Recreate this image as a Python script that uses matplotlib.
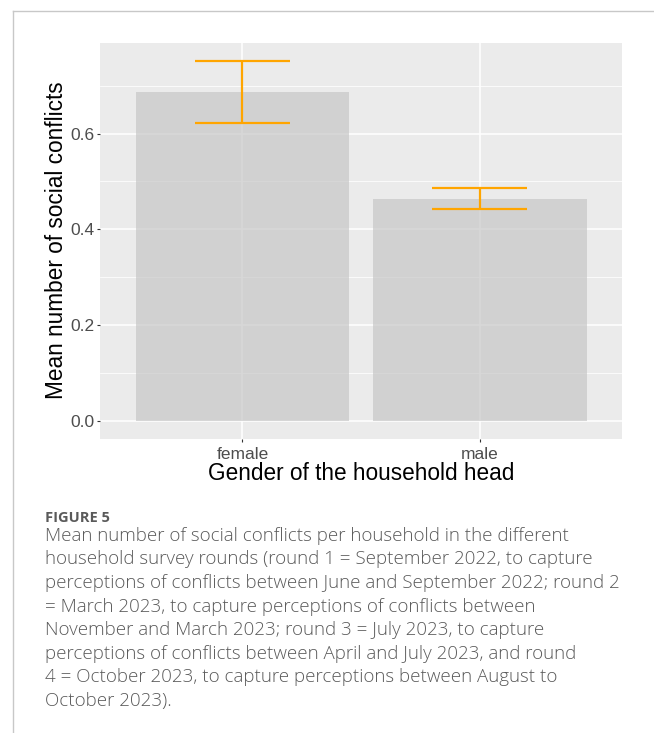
import numpy as np
import matplotlib
matplotlib.use("Agg")
import matplotlib.pyplot as plt
from matplotlib.lines import Line2D

# data
genders = ["female", "male"]
means = [0.687, 0.464]
lower = [0.623, 0.442]
upper = [0.752, 0.487]
yticks = [0.0, 0.2, 0.4, 0.6]
ytick_labels = ["0.0", "0.2", "0.4", "0.6"]

caption_title = "FIGURE 5"
caption_lines = [
    "Mean number of social conflicts per household in the different",
    "household survey rounds (round 1 = September 2022, to capture",
    "perceptions of conflicts between June and September 2022; round 2",
    "= March 2023, to capture perceptions of conflicts between",
    "November and March 2023; round 3 = July 2023, to capture",
    "perceptions of conflicts between April and July 2023, and round",
    "4 = October 2023, to capture perceptions between August to",
    "October 2023).",
]

W, H = 654, 733
fig = plt.figure(figsize=(W / 100, H / 100), dpi=100)
fig.patch.set_facecolor("white")

# panel position in pixels (left, top, right, bottom)
pl, pt, pr, pb = 100, 42.7, 622.5, 439
ax = fig.add_axes([pl / W, 1 - pb / H, (pr - pl) / W, (pb - pt) / H])
ax.set_facecolor("#EBEBEB")
for s in ax.spines.values():
    s.set_visible(False)

x = np.arange(1, len(genders) + 1)
ax.bar(x, means, width=0.9, color="#c4c4c4", alpha=0.65, zorder=2, linewidth=0)
ax.vlines(x, lower, upper, color="#FFA500", linewidth=1.6, zorder=3)
ax.hlines(lower, x - 0.2, x + 0.2, color="#FFA500", linewidth=1.6, zorder=3)
ax.hlines(upper, x - 0.2, x + 0.2, color="#FFA500", linewidth=1.6, zorder=3)

ymax = max(upper)
ax.set_ylim(-0.05 * ymax, 1.05 * ymax)
ax.set_xlim(0.4, len(genders) + 0.6)

ax.set_yticks(yticks)
ax.set_yticklabels(ytick_labels)
ax.set_yticks([0.1, 0.3, 0.5, 0.7], minor=True)
ax.set_xticks(x)
ax.set_xticklabels(genders)

ax.grid(True, which="major", color="white", linewidth=1.1, zorder=1)
ax.grid(True, which="minor", axis="y", color="white", linewidth=0.55, zorder=1)
ax.set_axisbelow(True)

ax.tick_params(which="major", length=2.4, width=0.8, color="#333333",
               labelcolor="#4D4D4D", labelsize=12.5, pad=1.5)
ax.tick_params(axis="x", which="major", pad=3.5)
ax.tick_params(which="minor", length=0)
for lab in ax.get_xticklabels() + ax.get_yticklabels():
    lab.set_family("Liberation Sans")

fig.text(361 / W, 1 - 473 / H, "Gender of the household head",
         ha="center", va="center", fontsize=16.3, family="Liberation Sans",
         color="black")
fig.text(57 / W, 1 - 240 / H, "Mean number of social conflicts",
         ha="center", va="center", rotation=90, fontsize=16.3,
         family="Liberation Sans", color="black")

# frame lines of the page
fig.add_artist(Line2D([13 / W, 1], [1 - 10.5 / H, 1 - 10.5 / H],
                      color="#c8c8c8", linewidth=1.0))
fig.add_artist(Line2D([13 / W, 13 / W], [1 - 10.5 / H, 0],
                      color="#c8c8c8", linewidth=1.0))

# caption
fig.text(45 / W, 1 - 522 / H, caption_title, ha="left", va="baseline",
         fontsize=10.5, fontweight="bold", family="Open Sans", color="#5a5a5a")
for i, line in enumerate(caption_lines):
    fig.text(45 / W, 1 - (540.7 + i * 23.6) / H, line, ha="left",
             va="baseline", fontsize=13.5, fontweight="light",
             family="Open Sans", color="#5a5a5a")

fig.savefig("out.png", dpi=100)
